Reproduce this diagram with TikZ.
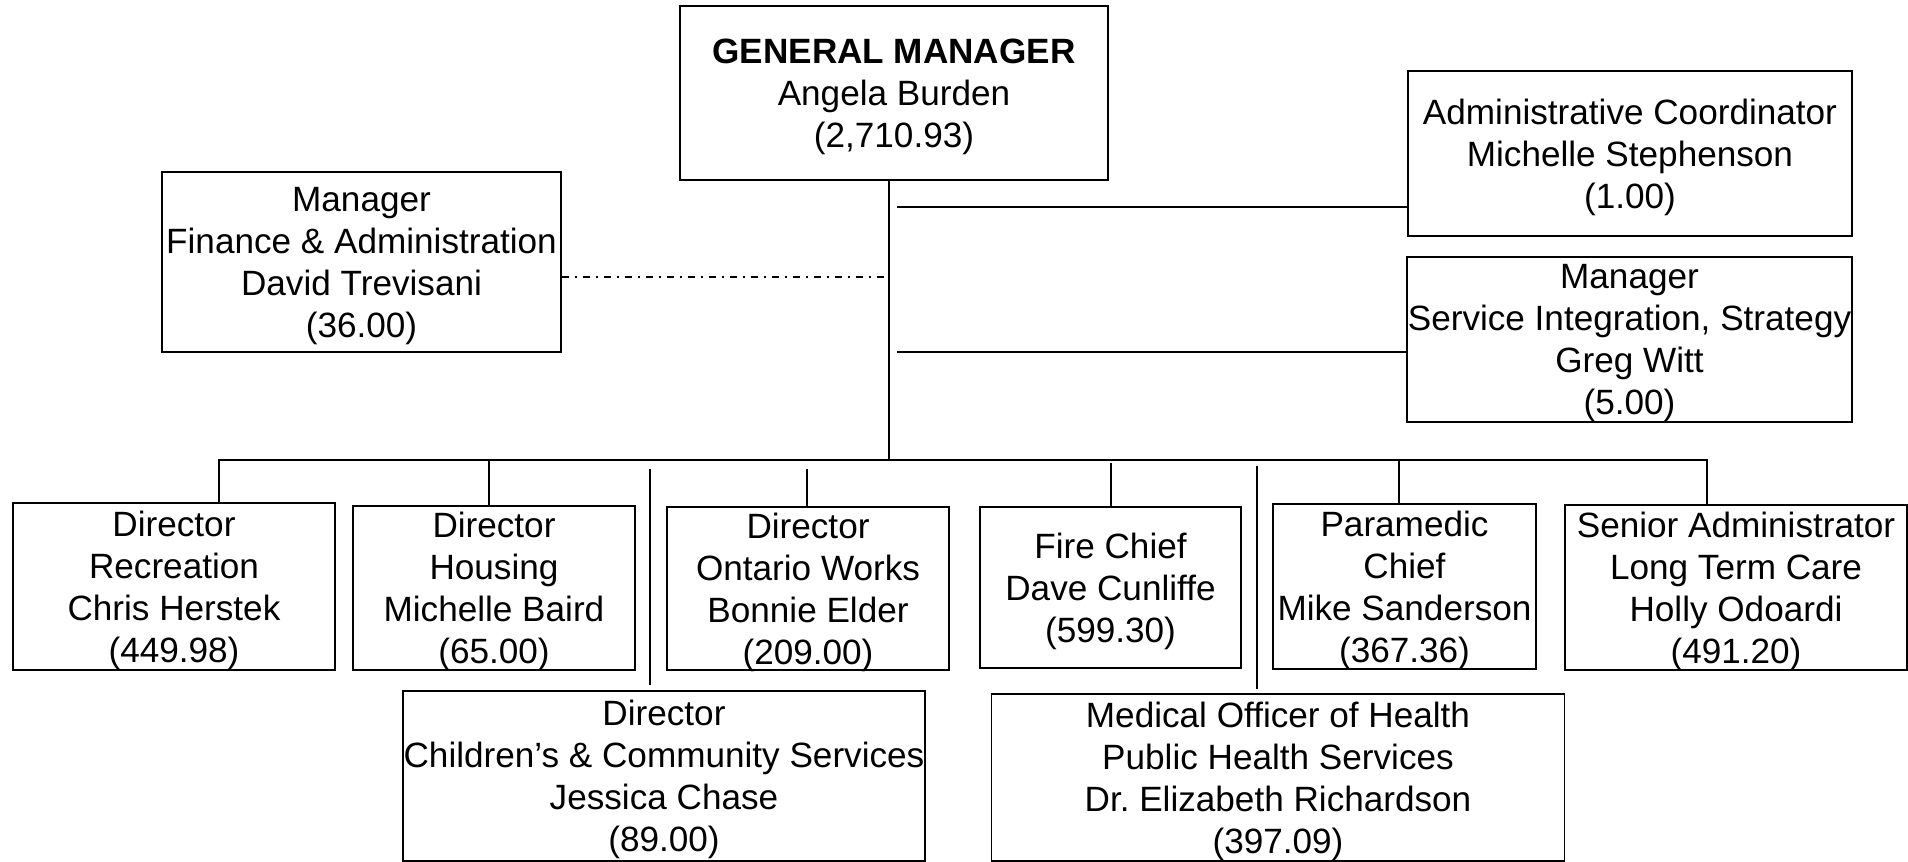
\documentclass[tikz,border=0pt]{standalone}
\usepackage{fontspec}
\setmainfont{Liberation Sans}
\frenchspacing
\begin{document}
\begin{tikzpicture}[
        x=0.02cm, y=-0.02cm,
        box/.style={draw, line width=0.9pt, inner sep=0pt, text depth=0pt, align=center, font=\fontsize{20pt}{23.9pt}\selectfont},
        link/.style={line width=0.9pt},
        dashdot/.style={line width=0.9pt, dash pattern=on 0.14cm off 0.12cm on 0.04cm off 0.12cm},
    ]
	\useasboundingbox (0,0) rectangle (1908,862);
	\node[box, minimum width=8.56cm, minimum height=3.48cm] (gm) at (894,93) {\textbf{GENERAL MANAGER}\\Angela Burden\\(2,710.93)};
	\node[box, minimum width=7.98cm, minimum height=3.6cm] (fin) at (361.5,262) {Manager\\Finance \& Administration\\David Trevisani\\(36.00)};
	\node[box, minimum width=8.88cm, minimum height=3.3cm] (adm) at (1630,153.5) {Administrative Coordinator\\Michelle Stephenson\\(1.00)};
	\node[box, minimum width=8.9cm, minimum height=3.3cm] (svc) at (1629.5,339.5) {Manager\\Service Integration, Strategy\\Greg Witt\\(5.00)};
	\node[box, minimum width=6.44cm, minimum height=3.34cm] (d_rec) at (174,586.5) {Director\\Recreation\\Chris Herstek\\(449.98)};
	\node[box, minimum width=5.64cm, minimum height=3.28cm] (d_hou) at (494,588) {Director\\Housing\\Michelle Baird\\(65.00)};
	\node[box, minimum width=5.64cm, minimum height=3.26cm] (d_ow) at (808,588.5) {Director\\Ontario Works\\Bonnie Elder\\(209.00)};
	\node[box, minimum width=5.22cm, minimum height=3.22cm] (d_fire) at (1110.5,587.5) {Fire Chief\\Dave Cunliffe\\(599.30)};
	\node[box, minimum width=5.26cm, minimum height=3.3cm] (d_para) at (1404.5,586.5) {Paramedic\\Chief\\Mike Sanderson\\(367.36)};
	\node[box, minimum width=6.84cm, minimum height=3.3cm] (d_ltc) at (1736,587.5) {Senior Administrator\\Long Term Care\\Holly Odoardi\\(491.20)};
	\node[box, minimum width=10.44cm, minimum height=3.4cm] (d_chi) at (664,776) {Director\\Children’s \& Community Services\\Jessica Chase\\(89.00)};
	\node[box, minimum width=11.46cm, minimum height=3.34cm] (d_moh) at (1278,777.5) {Medical Officer of Health\\Public Health Services\\Dr. Elizabeth Richardson\\(397.09)};

	\coordinate (hub) at (889,460);
	\coordinate (s_adm) at (897,207);
	\coordinate (s_svc) at (897,352);
	\coordinate (s_fin) at (886,277);
	\coordinate (t_rec) at (219,460);
	\coordinate (t_hou) at (489,460);
	\coordinate (t_chi) at (650,469);
	\coordinate (t_ow) at (807,469);
	\coordinate (t_fire) at (1111,463);
	\coordinate (t_moh) at (1257,466);
	\coordinate (t_para) at (1399,460);
	\coordinate (t_ltc) at (1707,460);

	\draw[link] (gm.south -| hub) -- (hub);
	\draw[link] (s_adm) -- (s_adm -| adm.west);
	\draw[link] (s_svc) -- (s_svc -| svc.west);
	\draw[dashdot] (fin.east |- s_fin) -- (s_fin);
	\draw[link] (t_rec |- d_rec.north) -- (t_rec) -- (t_ltc) -- (t_ltc |- d_ltc.north);
	\draw[link] (t_hou) -- (t_hou |- d_hou.north);
	\draw[link] (t_ow) -- (t_ow |- d_ow.north);
	\draw[link] (t_fire) -- (t_fire |- d_fire.north);
	\draw[link] (t_para) -- (t_para |- d_para.north);
	\draw[link, shorten >=0.1cm] (t_chi) -- (t_chi |- d_chi.north);
	\draw[link, shorten >=0.09cm] (t_moh) -- (t_moh |- d_moh.north);
\end{tikzpicture}
\end{document}
